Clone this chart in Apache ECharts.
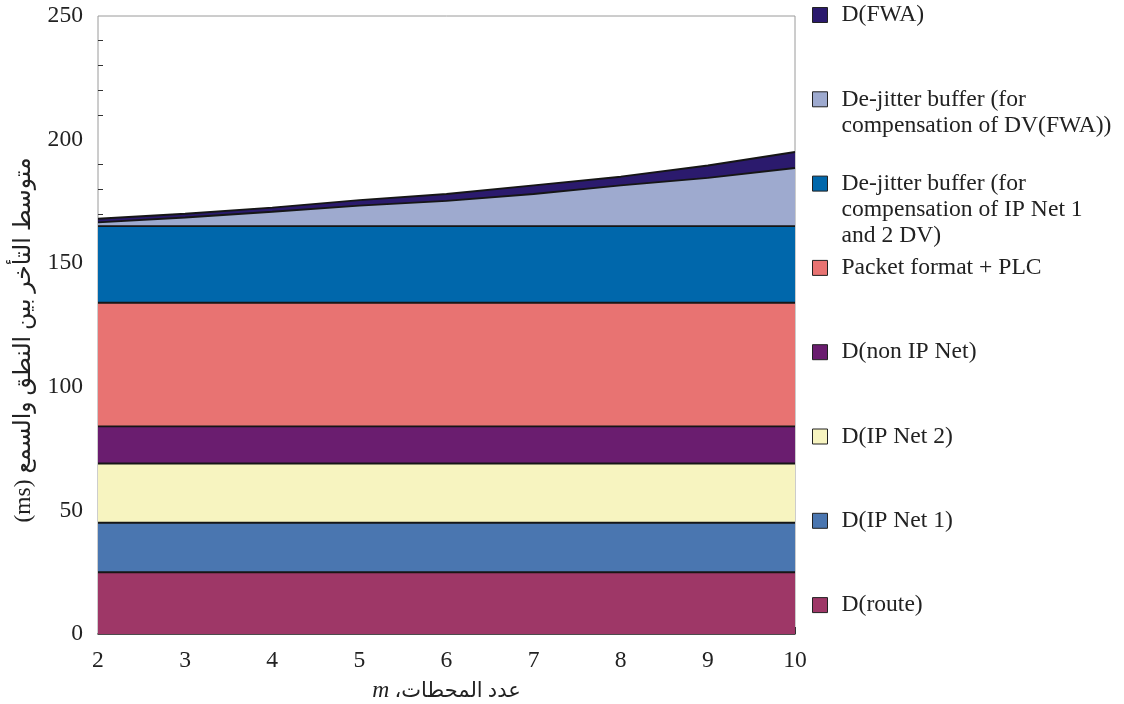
<!DOCTYPE html>
<html>
<head>
<meta charset="utf-8">
<script src="https://cdn.jsdelivr.net/npm/echarts@6/dist/echarts.min.js"></script>
<style>
  html, body { margin: 0; padding: 0; background: #ffffff; }
  #chart { width: 1124px; height: 704px; }
</style>
</head>
<body>
<div id="chart"></div>
<script>
// Number of stations m (x axis categories)
const stations = ['2', '3', '4', '5', '6', '7', '8', '9', '10'];

// Delay components in ms, stacked bottom to top
const dRoute    = [25, 25, 25, 25, 25, 25, 25, 25, 25];
const dIpNet1   = [20, 20, 20, 20, 20, 20, 20, 20, 20];
const dIpNet2   = [24, 24, 24, 24, 24, 24, 24, 24, 24];
const dNonIpNet = [15, 15, 15, 15, 15, 15, 15, 15, 15];
const packetPlc = [50, 50, 50, 50, 50, 50, 50, 50, 50];
const jitterIp  = [31, 31, 31, 31, 31, 31, 31, 31, 31];
const jitterFwa = [1.5, 3.5, 5.8, 8.3, 10.2, 13, 16.5, 19.5, 23.5];
const dFwa      = [1.5, 1.5, 1.7, 2.2, 2.8, 3.5, 3.5, 5, 6.5];

// Value axis ticks
const yTicks = { min: 0, max: 250, step: 50 };

// Series names (bottom of stack first)
const names = [
  'D(route)',
  'D(IP Net 1)',
  'D(IP Net 2)',
  'D(non IP Net)',
  'Packet format + PLC',
  'De-jitter buffer (for\ncompensation of IP Net 1\nand 2 DV)',
  'De-jitter buffer (for\ncompensation of DV(FWA))',
  'D(FWA)'
];
const values = [dRoute, dIpNet1, dIpNet2, dNonIpNet, packetPlc, jitterIp, jitterFwa, dFwa];
const colors = ['#9e3767', '#4a76b0', '#f7f4c0', '#6a1d6f', '#e87372', '#0067ab', '#9eaacf', '#2b1a6d'];

const serif = '"Liberation Serif", "DejaVu Serif", "DejaVu Sans", serif';
const FONT = 23.6;
const LH = 26;

const series = names.map((name, k) => ({
  name: name,
  type: 'line',
  stack: 'delay',
  symbol: 'none',
  silent: true,
  data: values[k],
  lineStyle: { color: '#161616', width: 1.9 },
  itemStyle: { color: colors[k] },
  areaStyle: { color: colors[k], opacity: 1 }
}));

// One legend block per series, top to bottom; leading blank lines keep the
// icon level with the first line of a wrapped name
const legendOrder = [7, 6, 5, 4, 3, 2, 1, 0];
const legends = legendOrder.map((k, i) => {
  const lines = names[k].split('\n').length;
  const center = 15 + 84.3 * i;
  return {
    data: [{ name: names[k], itemStyle: { color: colors[k], borderColor: '#222', borderWidth: 1 } }],
    orient: 'vertical',
    left: 812,
    top: center - (2 * lines - 1) * LH / 2,
    padding: 0,
    icon: 'rect',
    itemWidth: 15,
    itemHeight: 15,
    selectedMode: false,
    formatter: (name) => '\n'.repeat(lines - 1) + name,
    textStyle: {
      fontFamily: serif,
      fontSize: FONT,
      lineHeight: LH,
      color: '#222',
      padding: [0, 0, 0, 9]
    }
  };
});

const chart = echarts.init(document.getElementById('chart'));
chart.setOption({
  animation: false,
  backgroundColor: '#ffffff',
  legend: legends,
  grid: {
    left: 98, right: 329, top: 16, bottom: 70,
    outerBoundsMode: 'none',
    containLabel: false,
    show: true, borderColor: '#9a9a9a', borderWidth: 1, backgroundColor: 'transparent'
  },
  xAxis: {
    type: 'category',
    data: stations,
    boundaryGap: false,
    name: '{m|m}{t| ،عدد المحطات}',
    nameLocation: 'middle',
    nameGap: 45,
    nameTextStyle: {
      rich: {
        m: { fontFamily: serif, fontSize: FONT, fontStyle: 'italic', color: '#222' },
        t: { fontFamily: serif, fontSize: 21, color: '#222' }
      }
    },
    axisLine: { lineStyle: { color: '#222', width: 1.5 } },
    axisTick: { inside: true, interval: 0, length: 7, lineStyle: { color: '#333', width: 1 } },
    axisLabel: { fontFamily: serif, fontSize: FONT, color: '#222', margin: 15, interval: 0 },
    splitLine: { show: false }
  },
  yAxis: {
    type: 'value',
    min: yTicks.min, max: yTicks.max, interval: yTicks.step,
    name: '(ms) متوسط التأخر بين النطق والسمع',
    nameLocation: 'middle',
    nameRotate: 90,
    nameGap: 62,
    nameTextStyle: { fontFamily: serif, fontSize: 23.5, color: '#222', padding: [0, 30, 0, 0] },
    axisLine: { lineStyle: { color: '#222', width: 1.5 } },
    axisTick: { inside: true, length: 8, lineStyle: { color: '#333', width: 1 } },
    minorTick: { show: true, splitNumber: 5, length: 5, lineStyle: { color: '#333', width: 1 } },
    axisLabel: { fontFamily: serif, fontSize: FONT, color: '#222', margin: 15 },
    splitLine: { show: false },
    minorSplitLine: { show: false }
  },
  series: series
});
</script>
</body>
</html>
